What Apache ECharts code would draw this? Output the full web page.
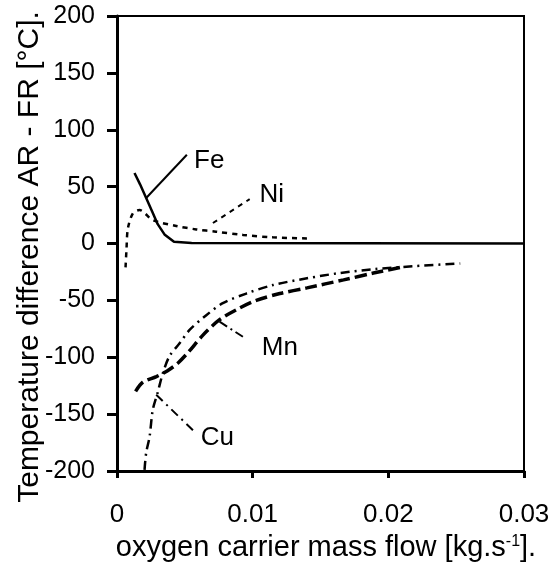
<!DOCTYPE html>
<html>
<head>
<meta charset="utf-8">
<script src="https://cdn.jsdelivr.net/npm/echarts@6/dist/echarts.min.js"></script>
<style>html,body{margin:0;padding:0;background:#fff;}#c{width:555px;height:567px;}</style>
</head>
<body>
<div id="c"></div>
<script>
// ---- data ----
const xTicks = [0, 0.01, 0.02, 0.03];
const yTicks = [-200, -150, -100, -50, 0, 50, 100, 150, 200];
const fe = [[0.00129,62],[0.0017,52],[0.00215,40],[0.0026,28],[0.003,17],[0.0035,8],[0.0042,1.5],[0.0055,0.5],[0.03,0]];
const ni = [[0.00063,-21],[0.0007,-5],[0.0008,13],[0.00117,26.5],[0.00166,29.4],[0.00264,20.6],[0.00437,15.4],[0.00584,12.4],[0.0073,10.4],[0.0093,7.5],[0.0115,5.4],[0.014,4.5]];
const mn = [[0.00137,-130],[0.0019,-122],[0.0029,-117],[0.0037,-112],[0.0045,-105],[0.0053,-95],[0.0063,-81],[0.00756,-67],[0.009,-57],[0.01027,-50],[0.012,-44],[0.014,-39],[0.0167,-32],[0.0189,-26],[0.0209,-21]];
const cu = [[0.00203,-199],[0.00215,-184],[0.0024,-170],[0.00264,-146],[0.003,-131],[0.00338,-114],[0.00387,-99],[0.0046,-88],[0.00535,-76],[0.00658,-63],[0.0078,-52.5],[0.00953,-44],[0.0115,-36.5],[0.014,-30.6],[0.0164,-26],[0.019,-22.5],[0.0218,-20],[0.0253,-17.5]];
const seriesNames = ['Fe', 'Ni', 'Mn', 'Cu'];
// annotation label anchors and leader lines (data coordinates)
const labelAt = { Fe: [0.0068, 73], Ni: [0.0114, 42.5], Mn: [0.012, -92], Cu: [0.0074, -171] };
const leaderLines = {
  Fe: [[0.00215, 40], [0.00515, 78]],
  Ni: [[0.00707, 18], [0.00978, 39]],
  Mn: [[0.00756, -68.7], [0.00928, -82]],
  Cu: [[0.00289, -133], [0.00572, -165.5]]
};
const xTitle = 'oxygen carrier mass flow [kg.s';
const yTitle = 'Temperature difference AR - FR [°C].';

// ---- chart ----
const FONT = "'Liberation Sans', Arial, sans-serif";
const styles = {
  Fe: { type: 'solid', width: 2.5, smooth: false },
  Ni: { type: [5, 5], width: 2.5, smooth: 0.3 },
  Mn: { type: [12, 5], width: 3.5, smooth: 0.3 },
  Cu: { type: [9, 5, 2, 5], width: 2.5, smooth: 0.3 }
};
const dataBy = { Fe: fe, Ni: ni, Mn: mn, Cu: cu };

const chart = echarts.init(document.getElementById('c'), null, { renderer: 'canvas' });

const series = seriesNames.map(name => ({
  name,
  type: 'line',
  data: dataBy[name],
  showSymbol: false,
  symbol: 'none',
  smooth: styles[name].smooth,
  lineStyle: { color: '#000', width: styles[name].width, type: styles[name].type },
  z: 3,
  markLine: {
    silent: true,
    symbol: ['none', 'none'],
    label: { show: false },
    lineStyle: { color: '#000', width: 2, type: name === 'Mn' ? [9, 4, 2, 4] : styles[name].type },
    data: [[{ coord: leaderLines[name][0] }, { coord: leaderLines[name][1] }]],
    animation: false
  },
  markPoint: {
    silent: true,
    symbol: 'circle',
    symbolSize: 0,
    label: { show: true, position: 'inside', formatter: name, color: '#000', fontFamily: FONT, fontSize: 26 },
    data: [{ coord: labelAt[name], value: name }],
    animation: false
  }
}));

chart.setOption({
  animation: false,
  backgroundColor: '#fff',
  grid: { left: 117, right: 31, top: 16, bottom: 96, show: true, borderColor: '#000', borderWidth: 2, backgroundColor: 'transparent' },
  xAxis: {
    type: 'value', min: xTicks[0], max: xTicks[xTicks.length - 1], interval: 0.01,
    axisLine: { show: true, onZero: false, lineStyle: { color: '#000', width: 3 } },
    axisTick: { show: true, inside: false, length: 7, lineStyle: { color: '#000', width: 3 } },
    splitLine: { show: false },
    axisLabel: { color: '#000', fontFamily: FONT, fontSize: 26, margin: 31,
      formatter: v => (Math.abs(v) < 1e-9 ? '0' : v.toFixed(2)) }
  },
  yAxis: {
    type: 'value', min: yTicks[0], max: yTicks[yTicks.length - 1], interval: 50,
    axisLine: { show: true, onZero: false, lineStyle: { color: '#000', width: 3 } },
    axisTick: { show: true, inside: false, length: 10, lineStyle: { color: '#000', width: 3 } },
    splitLine: { show: false },
    axisLabel: { color: '#000', fontFamily: FONT, fontSize: 25, margin: 22 }
  },
  graphic: [
    {
      type: 'text', x: 326, y: 548,
      style: {
        x: 0, y: 0, align: 'center', verticalAlign: 'middle',
        text: '{a|' + xTitle + '}{s|-1}{a|].}',
        rich: {
          a: { fontFamily: FONT, fontSize: 29, fill: '#000', color: '#000' },
          s: { fontFamily: FONT, fontSize: 16, fill: '#000', color: '#000', verticalAlign: 'top' }
        }
      }
    },
    {
      type: 'text', x: 30, y: 257, rotation: Math.PI / 2,
      style: {
        x: 0, y: 0, align: 'center', verticalAlign: 'middle',
        text: yTitle, fontFamily: FONT, fontSize: 30, fill: '#000'
      }
    }
  ],
  series
});
</script>
</body>
</html>
